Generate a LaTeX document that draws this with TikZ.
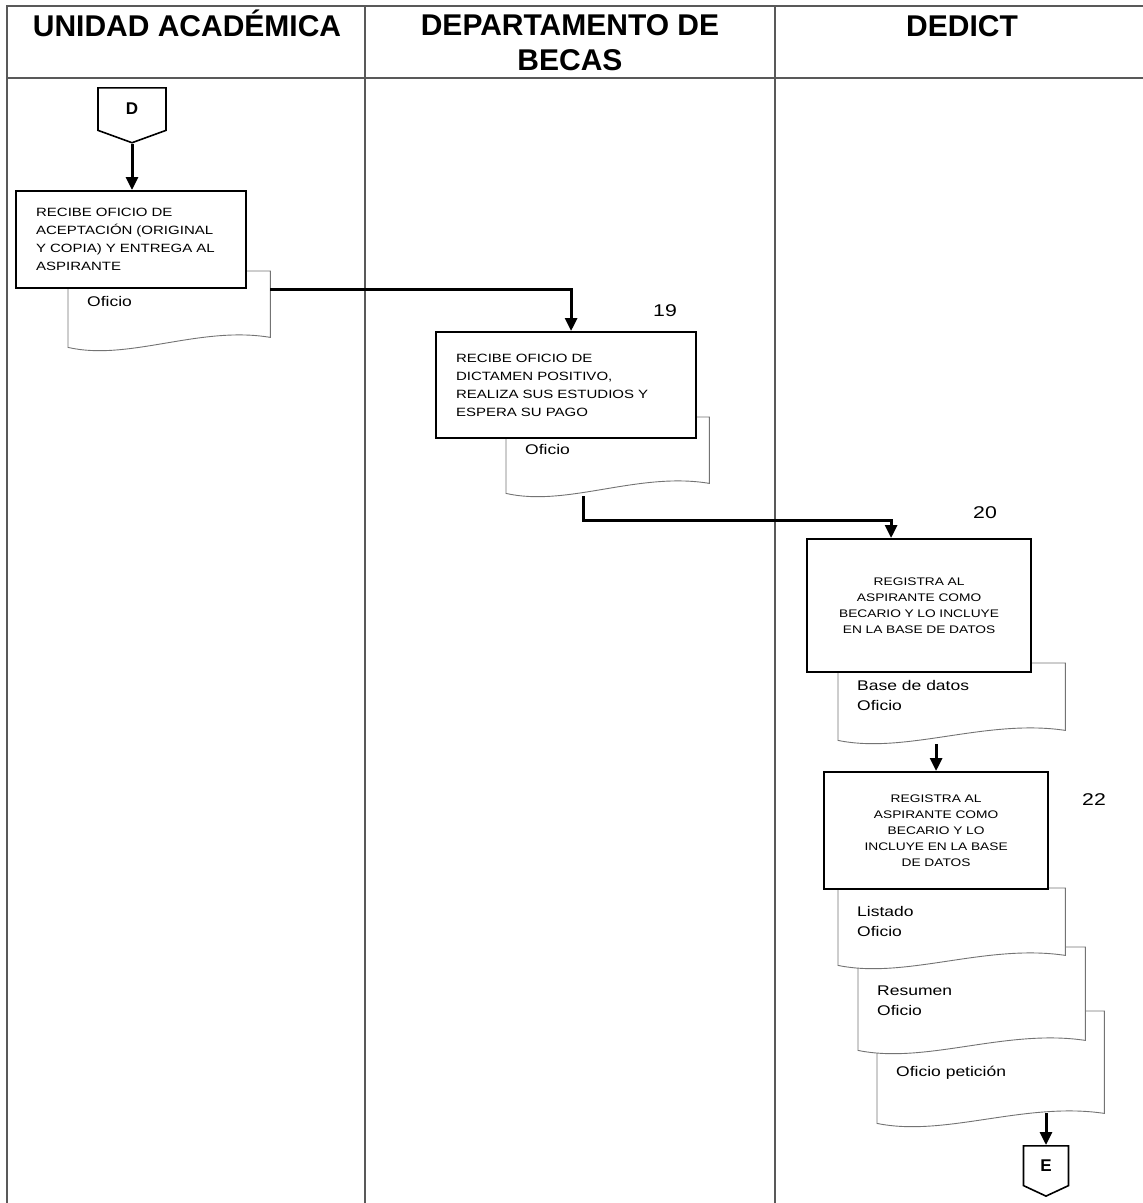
\documentclass[tikz,border=0pt]{standalone}
\usepackage{fontspec}
\setmainfont{Liberation Sans}
\newfontfamily\widefont[FakeStretch=1.25]{Liberation Sans}
\usetikzlibrary{arrows.meta, calc, shapes.symbols, positioning}

% hoja con borde ondulado alrededor de un nodo vacio
\newcommand{\docshape}[1]{%
  \draw[docline] (#1.north west) -- (#1.south west)
    .. controls ($(#1.south west)!.3!(#1.south east)+(0,14)$) and ($(#1.south west)!.65!(#1.south east)+(0,-22)$)
    .. ($(#1.south east)+(0,-10)$) -- (#1.north east) -- cycle;}

\begin{document}
\begin{tikzpicture}[
                x=1pt, y=-1pt,
                >={Stealth[length=13pt,width=12pt,inset=0pt]},
                lane/.style={line width=2.4pt, black!65},
                head/.style={font=\bfseries\fontsize{30}{35}\selectfont, align=center, inner sep=0pt},
                box/.style={
                    draw,
                    line width=2.2pt,
                    fill=white,
                    anchor=north west,
                    inner xsep=20pt,
                    font=\widefont\fontsize{12}{18}\selectfont
                },
                doc/.style={anchor=north west, inner sep=0pt},
                docline/.style={draw=black!55, line width=0.9pt, fill=white},
                doctext/.style={anchor=north west, inner sep=0pt, align=left,
                    font=\widefont\fontsize{14}{20}\selectfont},
                num/.style={font=\widefont\fontsize{17}{20}\selectfont},
                conn/.style={
                    draw,
                    line width=1.6pt,
                    fill=white,
                    signal, signal to=south,
                    anchor=north,
                    font=\bfseries\fontsize{17}{20}\selectfont
                },
                flow/.style={->, line width=3pt}
            ]

                \useasboundingbox (0,0) rectangle (1143,1203);

                % marco y carriles
                \draw[lane] (7,1215) -- (7,6) -- (1150,6);
                \draw[lane] (7,78) -- (1150,78);
                \draw[lane] (365,6) -- (365,1215);
                \draw[lane] (775,6) -- (775,1215);

                \node[head, anchor=base] (h1) at (187,36) {UNIDAD ACADÉMICA};
                \node[head, anchor=north] (h2) at (570,14) {DEPARTAMENTO DE\\BECAS};
                \node[head, anchor=base] (h3) at (962,36) {DEDICT};

                % documentos (detras de las cajas, el de abajo primero)
                \node[doc, minimum width=227, minimum height=112] (o6) at (877,1011) {};
                \docshape{o6}
                \node[doc, minimum width=227, minimum height=103] (o5) at (858,947) {};
                \docshape{o5}
                \node[doc, minimum width=227, minimum height=77] (o4) at (838,888) {};
                \docshape{o4}
                \node[doc, minimum width=227, minimum height=77] (o3) at (838,663) {};
                \docshape{o3}
                \node[doc, minimum width=203, minimum height=76] (o2) at (506,417) {};
                \docshape{o2}
                \node[doc, minimum width=202, minimum height=76] (o1) at (68,271) {};
                \docshape{o1}

                \node[doctext] (t1) at ([shift={(19,25)}]o1.north west) {Oficio};
                \node[doctext] (t2) at ([shift={(19,27)}]o2.north west) {Oficio};
                \node[doctext] (t3) at ([shift={(19,17)}]o3.north west) {Base de datos\\Oficio};
                \node[doctext] (t4) at ([shift={(19,18)}]o4.north west) {Listado\\Oficio};
                \node[doctext] (t5) at ([shift={(19,39)}]o5.north west) {Resumen\\Oficio};
                \node[doctext] (t6) at ([shift={(19,55)}]o6.north west) {Oficio petición};

                % actividades
                \node[box, text width=190pt, align=left, minimum height=97pt] (b1) at (15,190)
                    {RECIBE OFICIO DE\\ACEPTACIÓN (ORIGINAL\\Y COPIA) Y ENTREGA AL\\ASPIRANTE};
                \node[box, text width=220pt, align=left, minimum height=106pt] (b2) at (435,331)
                    {RECIBE OFICIO DE\\DICTAMEN POSITIVO,\\REALIZA SUS ESTUDIOS Y\\ESPERA SU PAGO};
                \node[box, text width=184pt, align=center, minimum height=133pt,
                      font=\widefont\fontsize{11}{16}\selectfont] (b3) at (806,538)
                    {REGISTRA AL\\ASPIRANTE COMO\\BECARIO Y LO INCLUYE\\EN LA BASE DE DATOS};
                \node[box, text width=184pt, align=center, minimum height=117pt,
                      font=\widefont\fontsize{11}{16}\selectfont] (b4) at (823,771)
                    {REGISTRA AL\\ASPIRANTE COMO\\BECARIO Y LO\\INCLUYE EN LA BASE\\DE DATOS};

                \node[num] (n19) at (665,311) {19};
                \node[num] (n20) at (985,513) {20};
                \node[num] (n22) at (1094,800) {22};

                % conectores fuera de pagina
                \node[conn, minimum width=68pt, minimum height=46pt, signal pointer angle=140] (D) at (132,87) {D};
                \node[conn, minimum width=45pt, minimum height=44pt, signal pointer angle=130] (E) at (1046,1145) {E};

                \coordinate (c2) at ($(o2.south west)!.38!(o2.south east)+(0,3)$);

                \draw[flow] (D.south) -- (D.south |- b1.north);
                \draw[flow] (o1.east |- b1.south) -| ([xshift=5pt]b2.north);
                \draw[flow] (c2) -- ++(0,24) -| ([xshift=-28pt]b3.north);
                \draw[flow] ([yshift=-4pt]b4.north |- o3.south) -- (b4.north);
                \draw[flow] ([yshift=10pt]E.north |- o6.south) -- (E.north);

            \end{tikzpicture}
\end{document}
